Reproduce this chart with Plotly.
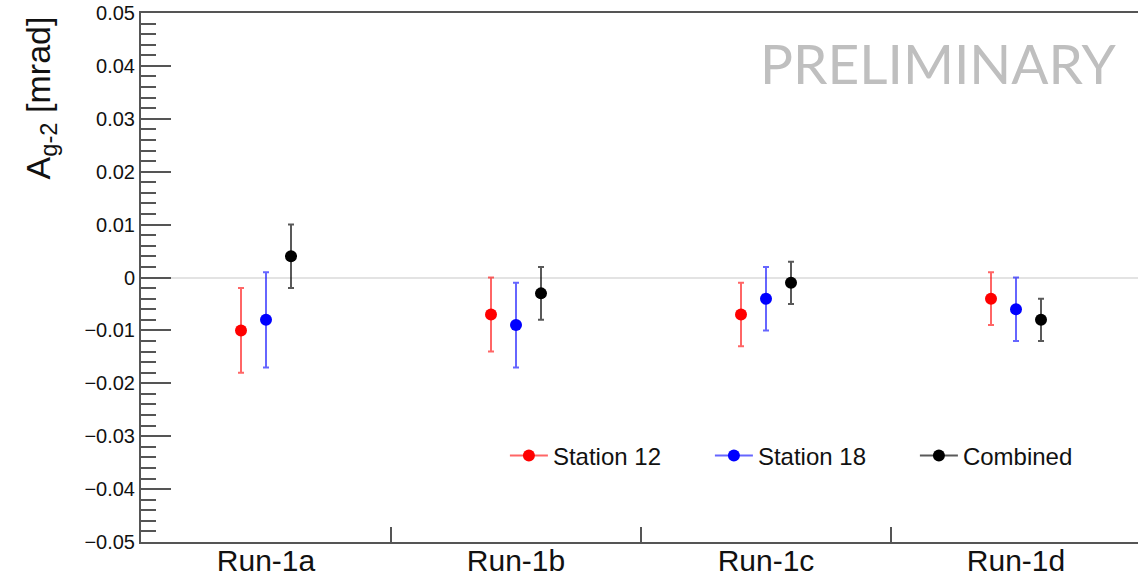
import plotly.graph_objects as go

# Run periods and measured asymmetry per station [mrad]
runs = ["Run-1a", "Run-1b", "Run-1c", "Run-1d"]

station12 = [-0.010, -0.007, -0.007, -0.004]
station12_err = [0.008, 0.007, 0.006, 0.005]

station18 = [-0.008, -0.009, -0.004, -0.006]
station18_err = [0.009, 0.008, 0.006, 0.006]

combined = [0.004, -0.003, -0.001, -0.008]
combined_err = [0.006, 0.005, 0.004, 0.004]

ytick_vals = [0.05, 0.04, 0.03, 0.02, 0.01, 0.0, -0.01, -0.02, -0.03, -0.04, -0.05]
ytick_text = ["0.05", "0.04", "0.03", "0.02", "0.01", "0",
              "\u22120.01", "\u22120.02", "\u22120.03", "\u22120.04", "\u22120.05"]

FONT = "Liberation Sans, Arial, Helvetica, sans-serif"
AXIS_COLOR = "#555555"

series = [
    ("Station 12", station12, station12_err, "#ff0000", "rgba(255,0,0,0.6)", -0.1),
    ("Station 18", station18, station18_err, "#0000ff", "rgba(0,0,255,0.6)", 0.0),
    ("Combined", combined, combined_err, "#000000", "rgba(0,0,0,0.65)", 0.1),
]

fig = go.Figure()

for name, vals, errs, col, ecol, shift in series:
    xs = [i + 0.5 + shift for i in range(len(runs))]
    fig.add_trace(go.Scatter(
        x=xs, y=vals, mode="markers", name=name, showlegend=False,
        marker=dict(color=col, size=12, symbol="circle"),
        error_y=dict(type="data", array=errs, visible=True,
                     color=ecol, thickness=2, width=3),
    ))

# legend entries drawn as line + marker
for name, vals, errs, col, ecol, shift in series:
    fig.add_trace(go.Scatter(
        x=[None], y=[None], mode="lines+markers", name=name,
        line=dict(color=ecol, width=2),
        marker=dict(color=col, size=12, symbol="circle"),
    ))

fig.update_layout(
    width=1138, height=578,
    margin=dict(l=141, r=0, t=13, b=36, autoexpand=False),
    paper_bgcolor="white", plot_bgcolor="white",
    font=dict(family=FONT, color="#111111"),
    showlegend=True,
    legend=dict(
        orientation="h", x=0.365, y=0.1626, xanchor="left", yanchor="middle",
        font=dict(family=FONT, size=24, color="#111111"),
        bgcolor="rgba(0,0,0,0)", entrywidth=152, entrywidthmode="pixels",
        itemwidth=38,
    ),
)

fig.update_xaxes(
    range=[0, 3.988],
    tickmode="array", tickvals=[i + 0.5 for i in range(len(runs))], ticktext=runs,
    ticks="", ticklen=0, ticklabelstandoff=-9, showgrid=False, zeroline=False,
    tickfont=dict(family=FONT, size=30, color="#111111"),
    showline=True, linecolor=AXIS_COLOR, linewidth=2, mirror=True,
    minor=dict(tickmode="array", tickvals=[1, 2, 3], ticks="inside",
               ticklen=15, tickwidth=1.5, tickcolor=AXIS_COLOR, showgrid=False),
)

fig.update_yaxes(
    range=[-0.05, 0.05],
    tickmode="array", tickvals=ytick_vals, ticktext=ytick_text,
    ticks="inside", ticklen=30, tickwidth=1.5, tickcolor=AXIS_COLOR,
    showgrid=False,
    zeroline=True, zerolinecolor="#e3e3e3", zerolinewidth=2,
    tickfont=dict(family=FONT, size=20, color="#111111"),
    showline=True, linecolor=AXIS_COLOR, linewidth=2, mirror=False,
    minor=dict(dtick=0.002, tick0=0, ticks="inside", ticklen=15,
               tickwidth=1.5, tickcolor=AXIS_COLOR, showgrid=False),
)

# axis title
fig.add_annotation(
    text="A<sub>g-2</sub> [mrad]", xref="paper", yref="paper",
    x=-0.101, y=0.839, xanchor="center", yanchor="middle",
    textangle=-90, showarrow=False,
    font=dict(family=FONT, size=34, color="#111111"),
)

fig.add_annotation(
    text="PRELIMINARY", xref="paper", yref="paper",
    x=0.8, y=0.905, xanchor="center", yanchor="middle",
    showarrow=False,
    font=dict(family="Lato, Open Sans, sans-serif", size=55, color="#bfbfbf"),
)

fig.write_html("out.html")
